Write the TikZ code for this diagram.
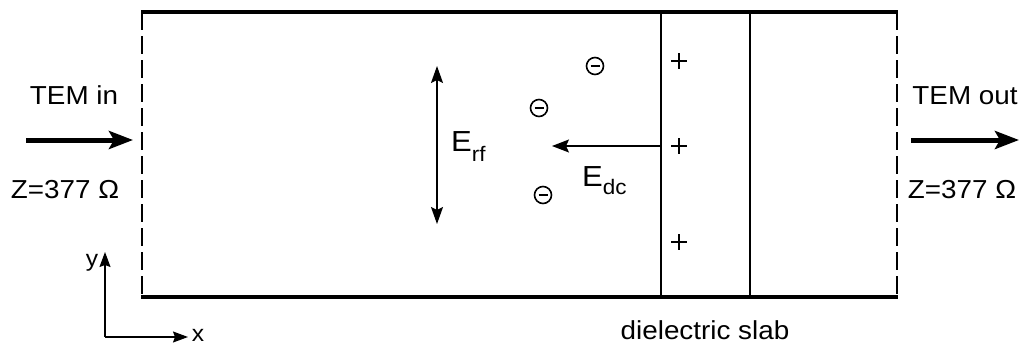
\documentclass[tikz,border=0pt]{standalone}
\usepackage{fontspec}
\setmainfont[FakeStretch=1.07]{Liberation Sans}
\usetikzlibrary{arrows.meta}
\begin{document}
\begin{tikzpicture}[x=1pt,y=-1pt,
  wall/.style={line width=4pt},
  port/.style={line width=1.5pt,dash pattern=on 18pt off 6pt},
  slabline/.style={line width=1.3pt},
  lbl/.style={inner sep=0pt,anchor=base,font=\fontsize{26}{30}\selectfont},
  bigarrow/.style={line width=5pt,-{Stealth[length=24pt,width=18pt,inset=5pt]}},
  rfarrow/.style={line width=1.7pt,{Stealth[length=17pt,width=12pt,inset=3pt]}-{Stealth[length=17pt,width=12pt,inset=3pt]}},
  dcarrow/.style={line width=1.2pt,-{Stealth[length=17pt,width=13pt,inset=3pt]}},
  axis/.style={line width=1.3pt,-{Stealth[length=15pt,width=11pt,inset=2pt]}},
  elabel/.style={inner sep=0pt,anchor=base west,font=\fontsize{29}{32}\selectfont},
  electron/.style={circle,draw,line width=1.6pt,minimum size=17pt,inner sep=0pt,
    path picture={\draw[line width=1.6pt] ([xshift=-4.5pt]path picture bounding box.center) -- ([xshift=4.5pt]path picture bounding box.center);}},
  plusmark/.style={inner sep=0pt,minimum size=16pt,
    path picture={\draw[line width=2.4pt] (path picture bounding box.north) -- (path picture bounding box.south)
      (path picture bounding box.west) -- (path picture bounding box.east);}}
]
\useasboundingbox (0,0) rectangle (1025,346);
% box corners
\coordinate (A) at (142,12);
\coordinate (B) at (897,12);
\coordinate (C) at (897,297);
\coordinate (D) at (142,297);
\draw[wall] ([xshift=-1pt]A) -- ([xshift=1pt]B);
\draw[wall] ([xshift=-1pt]D) -- ([xshift=1pt]C);
\draw[port] (A) -- (D);
\draw[port] (B) -- (C);
% slab
\coordinate (S1t) at (661,12);
\coordinate (S1b) at (661,297);
\coordinate (S2t) at (750,12);
\coordinate (S2b) at (750,297);
\draw[slabline] (S1t) -- (S1b);
\draw[slabline] (S2t) -- (S2b);
% left port
\node[lbl] (temin) at (74,104) {TEM in};
\node[lbl] (zin) at (65,198) {Z=377 Ω};
\coordinate (inS) at (26,140);
\coordinate (inE) at (133,140);
\draw[bigarrow] (inS) -- (inE);
% right port
\node[lbl] (temout) at (965,104) {TEM out};
\node[lbl] (zout) at (962,198) {Z=377 Ω};
\coordinate (outS) at (911,140);
\coordinate (outE) at (1019,140);
\draw[bigarrow] (outS) -- (outE);
% E_rf
\coordinate (rfT) at (437,66);
\coordinate (rfB) at (437,224);
\draw[rfarrow] (rfT) -- (rfB);
\node[elabel] (erf) at (451,151) {E\lower10pt\hbox{\fontsize{21}{24}\selectfont rf}};
% E_dc
\coordinate (dcS) at (661,146);
\coordinate (dcE) at (552,146);
\draw[dcarrow] (dcS) -- (dcE);
\node[elabel] (edc) at (582,186) {E\lower8pt\hbox{\fontsize{21}{24}\selectfont dc}};
% electrons
\node[electron] (e1) at (595,66) {};
\node[electron] (e2) at (539,108) {};
\node[electron] (e3) at (543,195) {};
% plus charges
\node[plusmark] (p1) at (679,61) {};
\node[plusmark] (p2) at (679,146) {};
\node[plusmark] (p3) at (679,242) {};
% slab label
\node[lbl] (slab) at (705,339) {dielectric slab};
% axes
\coordinate (O) at (105,337);
\coordinate (Ytip) at (105,252);
\coordinate (Xtip) at (188,337);
\draw[axis] (O) -- (Ytip);
\draw[axis] (O) -- (Xtip);
\node[inner sep=0pt,anchor=base,font=\fontsize{23}{26}\selectfont] (ylbl) at (92,266) {y};
\node[inner sep=0pt,anchor=base,font=\fontsize{23}{26}\selectfont] (xlbl) at (198,341) {x};
\end{tikzpicture}
\end{document}
